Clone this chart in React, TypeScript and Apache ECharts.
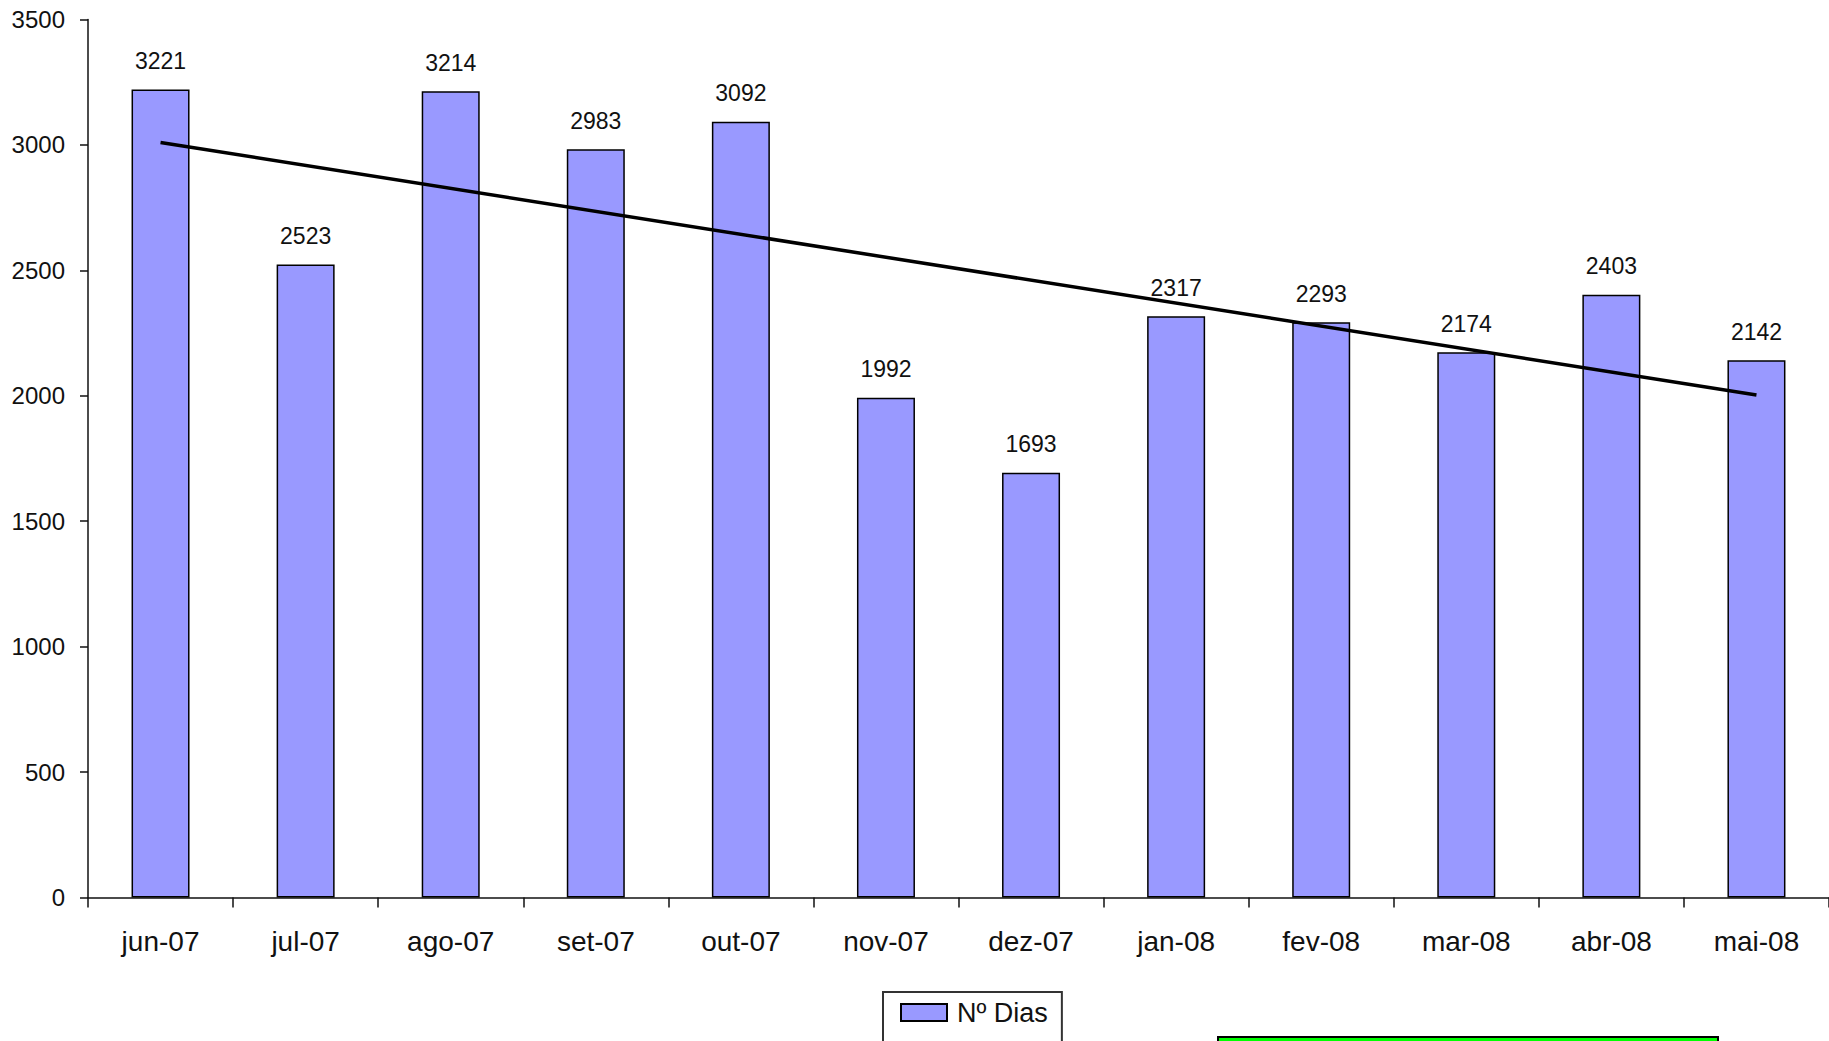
import React, { useEffect, useRef } from "react";
import * as echarts from "echarts";

const categories = ["jun-07", "jul-07", "ago-07", "set-07", "out-07", "nov-07", "dez-07", "jan-08", "fev-08", "mar-08", "abr-08", "mai-08"];
const diasValues = [3221, 2523, 3214, 2983, 3092, 1992, 1693, 2317, 2293, 2174, 2403, 2142];
// linear trend line endpoints
const trendValues: (number | null)[] = [3010, null, null, null, null, null, null, null, null, null, null, 2003];
const seriesName = "Nº Dias";

export default function App() {
  const ref = useRef<HTMLDivElement>(null);
  useEffect(() => {
    if (!ref.current) return;
    const chart = echarts.init(ref.current, null, { renderer: "svg" });
    const font = "'Liberation Sans', Arial, sans-serif";
    chart.setOption({
      animation: false,
      backgroundColor: "#ffffff",
      textStyle: { fontFamily: font, color: "#111" },
      grid: { left: 88, right: -4, top: 19.5, bottom: 143.5, containLabel: false },
      legend: {
        data: [seriesName],
        left: 883,
        top: 992,
        icon: "rect",
        itemWidth: 46,
        itemHeight: 17,
        padding: [7, 14, 45, 17],
        borderColor: "#333",
        borderWidth: 2,
        backgroundColor: "#fff",
        textStyle: { fontFamily: font, fontSize: 27, color: "#111", padding: [0, 0, 0, 5] },
      },
      xAxis: {
        type: "category",
        data: categories,
        axisLine: { lineStyle: { color: "#111", width: 1.5 } },
        axisTick: { show: true, length: 10, alignWithLabel: false, lineStyle: { color: "#111", width: 1.5 } },
        axisLabel: { fontSize: 28, color: "#111", margin: 30, fontFamily: font },
        splitLine: { show: false },
      },
      yAxis: {
        type: "value",
        min: 0,
        max: 3500,
        interval: 500,
        axisLine: { show: true, lineStyle: { color: "#111", width: 1.5 } },
        axisTick: { show: true, length: 8, lineStyle: { color: "#111", width: 1.5 } },
        axisLabel: { fontSize: 24, color: "#111", margin: 23, fontFamily: font, formatter: (v: number) => String(v) },
        splitLine: { show: false },
      },
      series: [
        {
          name: seriesName,
          type: "bar",
          data: diasValues,
          barWidth: 58,
          itemStyle: { color: "#9999FF", borderColor: "#000", borderWidth: 1.5 },
          label: { show: true, position: "top", distance: 17, fontSize: 23, color: "#111", fontFamily: font },
        },
        {
          name: "Tendência",
          type: "line",
          data: trendValues,
          connectNulls: true,
          showSymbol: false,
          symbol: "none",
          lineStyle: { color: "#000", width: 3.5 },
          z: 5,
        },
      ],
      graphic: [
        {
          type: "rect",
          left: 1217,
          top: 1036,
          shape: { width: 500, height: 20 },
          style: { fill: "#00ff00", stroke: "#000", lineWidth: 2 },
          z: 100,
        },
      ],
    });
    return () => chart.dispose();
  }, []);
  return <div ref={ref} style={{ position: "fixed", left: 0, top: 0, width: 1829, height: 1041 }} />;
}
